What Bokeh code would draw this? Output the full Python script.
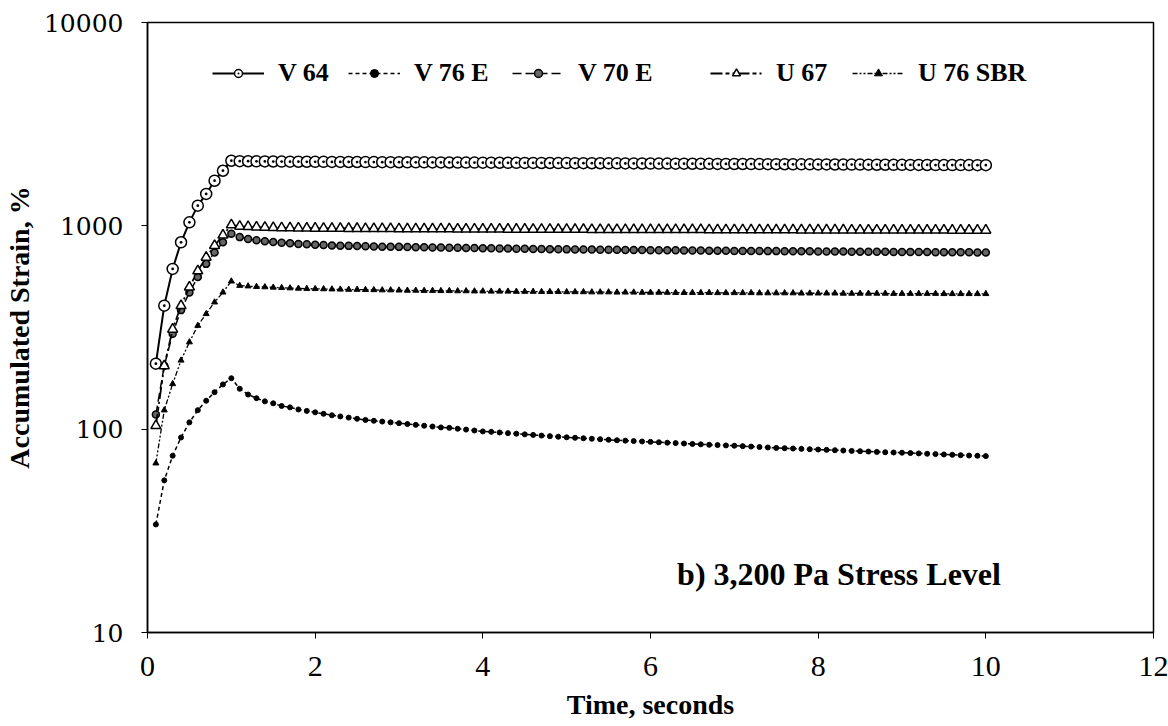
from bokeh.plotting import figure
from bokeh.models import FixedTicker, NumeralTickFormatter, Legend, LegendItem, Label
from bokeh.embed import file_html
from bokeh.resources import INLINE

# Time grid, seconds (0.1 s sampling)
time_s = [round(0.1 * i, 1) for i in range(1, 101)]

v64 = [210, 405, 614, 830, 1040, 1257, 1435, 1667, 1866, 2090,
       2080, 2078, 2076, 2074, 2072, 2070, 2068, 2067, 2066, 2065,
       2064, 2063, 2062, 2061, 2060, 2059, 2058, 2057, 2056, 2055,
       2054, 2053, 2052, 2051, 2050, 2049, 2048, 2047, 2046, 2045,
       2044, 2043, 2042, 2041, 2040, 2039, 2038, 2037, 2036, 2035,
       2034, 2033, 2032, 2031, 2030, 2029, 2028, 2027, 2026, 2025,
       2024, 2023, 2022, 2021, 2020, 2019, 2018, 2017, 2016, 2015,
       2014, 2013, 2012, 2011, 2010, 2009, 2008, 2007, 2006, 2005,
       2004, 2003, 2002, 2001, 2000, 1999, 1998, 1997, 1996, 1995,
       1994, 1993, 1992, 1991, 1990, 1990, 1989, 1989, 1988, 1988]

v76e = [34, 56, 74, 91, 108, 124, 138, 152, 166, 178,
        158, 148, 142, 137, 134, 130, 128, 125, 123, 121,
        119, 117, 115.5, 114, 112.5, 111, 110, 109, 108, 107,
        106, 105, 104, 103, 102, 101.5, 100.5, 99.5, 98.5, 97.5,
        97, 96.3, 95.6, 95, 94.3, 93.7, 93, 92.4, 91.8, 91.2,
        90.7, 90.2, 89.7, 89.2, 88.7, 88.2, 87.8, 87.4, 87, 86.6,
        86.2, 85.8, 85.4, 85, 84.6, 84.2, 83.8, 83.5, 83.2, 82.9,
        82.5, 82.1, 81.7, 81.3, 80.9, 80.6, 80.3, 80, 79.7, 79.4,
        79.1, 78.8, 78.5, 78.2, 77.9, 77.6, 77.3, 77, 76.8, 76.6,
        76.3, 76, 75.7, 75.4, 75.1, 74.8, 74.5, 74.2, 74, 73.7]

v70e = [118, 205, 295, 385, 470, 560, 650, 740, 830, 915,
        880, 862, 850, 840, 832, 826, 820, 815, 811, 807,
        804, 801, 799, 797, 795, 793, 791, 790, 789, 788,
        787, 785, 784, 783, 782, 781, 780, 779, 778, 776,
        775, 774, 773, 772, 771, 770, 769, 768, 767, 766,
        765, 765, 764, 763, 763, 762, 761, 761, 760, 759,
        759, 758, 758, 757, 757, 756, 755, 755, 754, 753,
        753, 752, 752, 751, 751, 750, 750, 749, 749, 748,
        748, 747, 747, 746, 746, 746, 745, 745, 744, 744,
        744, 743, 743, 742, 742, 742, 741, 741, 740, 740]

u67 = [104, 205, 310, 405, 500, 600, 700, 800, 900, 1010,
       995, 990, 986, 983, 980, 978, 976, 975, 974, 973,
       972, 971, 971, 970, 970, 969, 969, 968, 968, 967,
       967, 966, 966, 965, 965, 965, 964, 964, 964, 963,
       963, 963, 962, 962, 962, 961, 961, 961, 960, 960,
       960, 960, 959, 959, 959, 959, 958, 958, 958, 958,
       958, 957, 957, 957, 957, 957, 956, 956, 956, 956,
       956, 955, 955, 955, 955, 955, 955, 954, 954, 954,
       954, 954, 954, 953, 953, 953, 953, 953, 953, 952,
       952, 952, 952, 952, 952, 951, 951, 951, 951, 951]

u76sbr = [68, 124, 167, 218, 268, 323, 369, 421, 471, 534,
          508, 505, 502, 500, 498, 496, 494, 492, 491, 490,
          489, 488, 487, 486, 486, 485, 484, 483, 483, 482,
          481, 481, 480, 480, 479, 479, 478, 478, 477, 477,
          476, 476, 476, 475, 475, 475, 474, 474, 474, 473,
          473, 473, 472, 472, 472, 471, 471, 471, 470, 470,
          470, 470, 469, 469, 469, 469, 469, 468, 468, 468,
          468, 468, 467, 467, 467, 467, 467, 466, 466, 466,
          466, 466, 465, 465, 465, 465, 465, 465, 464, 464,
          464, 464, 464, 464, 463, 463, 463, 463, 463, 463]

series_names = ["V 64", "V 76 E", "V 70 E", "U 67", "U 76 SBR"]
x_ticks = [0, 2, 4, 6, 8, 10, 12]
y_ticks = [10, 100, 1000, 10000]

p = figure(width=1168, height=726, x_range=(0, 12), y_range=(10, 10000),
           y_axis_type="log", output_backend="svg", toolbar_location=None,
           min_border_left=147, min_border_right=15, min_border_top=22,
           min_border_bottom=94)
p.grid.visible = False
p.outline_line_color = "black"
p.outline_line_width = 1.5
p.background_fill_color = "white"
p.border_fill_color = "white"

p.xaxis.ticker = FixedTicker(ticks=x_ticks)
p.yaxis.ticker = FixedTicker(ticks=y_ticks, minor_ticks=[])
p.yaxis.formatter = NumeralTickFormatter(format="0")
for ax in (p.xaxis, p.yaxis):
    ax.axis_line_color = "black"
    ax.axis_line_width = 1.5
    ax.major_tick_line_color = "black"
    ax.major_tick_out = 6
    ax.major_tick_in = 0
    ax.minor_tick_line_color = None
p.xaxis.major_label_text_font = "Liberation Serif"
p.xaxis.major_label_text_font_size = "30px"
p.xaxis.major_label_standoff = 18
p.yaxis.major_label_text_font = "DejaVu Serif"
p.yaxis.major_label_text_font_size = "25px"
p.yaxis.major_label_standoff = 18
p.xaxis.axis_label = "Time, seconds"
p.yaxis.axis_label = "Accumulated Strain, %"
for ax in (p.xaxis, p.yaxis):
    ax.axis_label_text_font = "Liberation Serif"
    ax.axis_label_text_font_style = "bold"
    ax.axis_label_text_font_size = "28px"
    ax.axis_label_text_color = "black"
    ax.major_label_text_color = "black"
p.xaxis.axis_label_standoff = 10
p.yaxis.axis_label_standoff = 6

styles = [
    dict(y=v64, dash="solid", lw=2, marker="circle_dot", size=11, fill="white", mlw=1.5),
    dict(y=v76e, dash="4 3", lw=1.5, marker="circle", size=5, fill="black", mlw=1),
    dict(y=v70e, dash="9 4", lw=1.5, marker="circle", size=7, fill="#666666", mlw=1.5),
    dict(y=u67, dash="12 3 4 3 2 3", lw=1.8, marker="triangle", size=10, fill="white", mlw=1.5),
    dict(y=u76sbr, dash="5 2 2 2 2 2", lw=1.3, marker="triangle", size=6, fill="black", mlw=1),
]

legend_x = [65, 201, 365, 563, 705]
for name, st, lx in zip(series_names, styles, legend_x):
    rl = p.line(time_s, st["y"], line_color="black", line_width=st["lw"], line_dash=st["dash"])
    rm = p.scatter(time_s, st["y"], marker=st["marker"], size=st["size"],
                   fill_color=st["fill"], line_color="black", line_width=st["mlw"])
    leg = Legend(items=[LegendItem(label=name, renderers=[rl, rm])],
                 location=(lx, 544), orientation="horizontal",
                 glyph_width=52, glyph_height=20, label_height=20, label_standoff=14,
                 padding=0, margin=0, border_line_color=None, background_fill_alpha=0,
                 label_text_font="Liberation Serif", label_text_font_style="bold",
                 label_text_font_size="26px", label_text_color="black")
    p.add_layout(leg)

note = Label(x=10.18, y=19.5, text="b) 3,200 Pa Stress Level", text_align="right",
             text_baseline="alphabetic", text_font="Liberation Serif",
             text_font_style="bold", text_font_size="32px", text_color="black")
p.add_layout(note)

open("out.html", "w").write(file_html(p, INLINE))
